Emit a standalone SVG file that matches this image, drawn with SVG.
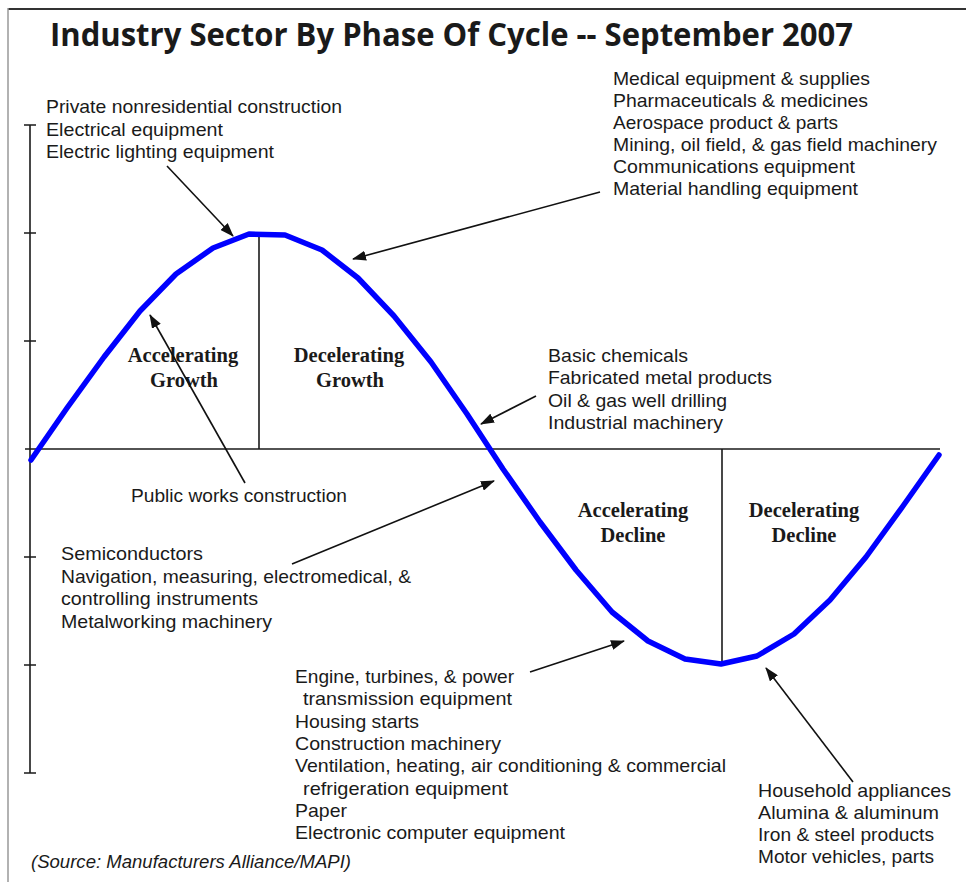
<svg xmlns="http://www.w3.org/2000/svg" width="966" height="882" viewBox="0 0 966 882">
  <style>
    .title { font-family: "Open Sans", "Liberation Sans", sans-serif; font-weight: 700; font-size: 32px; fill: #1a1a1a; }
    .item { font-family: "Liberation Sans", Arial, sans-serif; font-size: 19px; fill: #1a1a1a; }
    .phase { font-family: "Liberation Serif", "Times New Roman", serif; font-weight: 700; font-size: 20.5px; fill: #1a1a1a; text-anchor: middle; }
    .source { font-family: "Liberation Sans", Arial, sans-serif; font-style: italic; font-size: 18.5px; fill: #1a1a1a; }
    .axis { stroke: #1a1a1a; stroke-width: 1.6; fill: none; }
    .curve { stroke: #0000ff; stroke-width: 5.5; fill: none; stroke-linejoin: round; stroke-linecap: round; }
    .arrow { stroke: #111; stroke-width: 1.6; fill: none; marker-end: url(#head); }
  </style>
  <defs>
    <marker id="head" markerUnits="userSpaceOnUse" markerWidth="14" markerHeight="10" refX="13" refY="5" orient="auto">
      <path d="M0,0 L14,5 L0,10 z" fill="#111"/>
    </marker>
  </defs>

  <rect width="966" height="882" fill="#ffffff"/>

  <!-- frame -->
  <g id="frame">
    <line x1="8" y1="9" x2="966" y2="9" stroke="#333" stroke-width="2"/>
    <line x1="8" y1="8" x2="8" y2="882" stroke="#999" stroke-width="1.5"/>
  </g>

  <g id="title">
    <text class="title" x="50" y="46" textLength="803" lengthAdjust="spacingAndGlyphs">Industry Sector By Phase Of Cycle -- September 2007</text>
  </g>

  <!-- axes and ticks -->
  <g id="axes">
    <line class="axis" x1="30" y1="125" x2="30" y2="773"/>
    <line class="axis" x1="25" y1="449" x2="940" y2="449"/>
    <path class="axis" d="M24,125 H36 M24,233 H36 M24,341 H36 M24,557 H36 M24,665 H36 M24,773 H36"/>
    <line class="axis" x1="259" y1="234" x2="259" y2="449"/>
    <line class="axis" x1="722" y1="449" x2="722" y2="664"/>
  </g>

  <!-- business cycle wave -->
  <g id="cycle">
    <polyline class="curve" points="31,460 67,408 104,357 140,311 176,274 213,248 249,234 285,235 322,250 358,278 394,316 431,362 467,414 503,469 540,522 576,570 612,612 648,641 685,659 721,664 757,656 794,634 830,600 866,557 903,506 939,455"/>
  </g>

  <!-- phase labels -->
  <g id="phase-accel-growth">
    <text class="phase" x="183" y="362">Accelerating</text>
    <text class="phase" x="184" y="387">Growth</text>
  </g>
  <g id="phase-decel-growth">
    <text class="phase" x="349" y="362">Decelerating</text>
    <text class="phase" x="350" y="387">Growth</text>
  </g>
  <g id="phase-accel-decline">
    <text class="phase" x="633" y="517">Accelerating</text>
    <text class="phase" x="633" y="542">Decline</text>
  </g>
  <g id="phase-decel-decline">
    <text class="phase" x="804" y="517">Decelerating</text>
    <text class="phase" x="804" y="542">Decline</text>
  </g>

  <!-- sector groups -->
  <g id="group-peak">
    <text class="item" x="46" y="113" textLength="296" lengthAdjust="spacingAndGlyphs">Private nonresidential construction</text>
    <text class="item" x="46" y="136" textLength="177" lengthAdjust="spacingAndGlyphs">Electrical equipment</text>
    <text class="item" x="46" y="158" textLength="228" lengthAdjust="spacingAndGlyphs">Electric lighting equipment</text>
  </g>
  <g id="group-decel-growth">
    <text class="item" x="613" y="85" textLength="257" lengthAdjust="spacingAndGlyphs">Medical equipment &amp; supplies</text>
    <text class="item" x="613" y="107" textLength="255" lengthAdjust="spacingAndGlyphs">Pharmaceuticals &amp; medicines</text>
    <text class="item" x="613" y="129" textLength="225" lengthAdjust="spacingAndGlyphs">Aerospace product &amp; parts</text>
    <text class="item" x="613" y="151" textLength="324" lengthAdjust="spacingAndGlyphs">Mining, oil field, &amp; gas field machinery</text>
    <text class="item" x="613" y="173" textLength="242" lengthAdjust="spacingAndGlyphs">Communications equipment</text>
    <text class="item" x="613" y="195" textLength="245" lengthAdjust="spacingAndGlyphs">Material handling equipment</text>
  </g>
  <g id="group-late-growth">
    <text class="item" x="548" y="362" textLength="140" lengthAdjust="spacingAndGlyphs">Basic chemicals</text>
    <text class="item" x="548" y="384" textLength="224" lengthAdjust="spacingAndGlyphs">Fabricated metal products</text>
    <text class="item" x="548" y="407" textLength="179" lengthAdjust="spacingAndGlyphs">Oil &amp; gas well drilling</text>
    <text class="item" x="548" y="429" textLength="175" lengthAdjust="spacingAndGlyphs">Industrial machinery</text>
  </g>
  <g id="group-accel-growth">
    <text class="item" x="131" y="502" textLength="216" lengthAdjust="spacingAndGlyphs">Public works construction</text>
  </g>
  <g id="group-early-decline">
    <text class="item" x="61" y="560" textLength="142" lengthAdjust="spacingAndGlyphs">Semiconductors</text>
    <text class="item" x="61" y="583" textLength="350" lengthAdjust="spacingAndGlyphs">Navigation, measuring, electromedical, &amp;</text>
    <text class="item" x="61" y="605" textLength="197" lengthAdjust="spacingAndGlyphs">controlling instruments</text>
    <text class="item" x="61" y="628" textLength="211" lengthAdjust="spacingAndGlyphs">Metalworking machinery</text>
  </g>
  <g id="group-accel-decline">
    <text class="item" x="295" y="683" textLength="219" lengthAdjust="spacingAndGlyphs">Engine, turbines, &amp; power</text>
    <text class="item" x="303" y="705" textLength="209" lengthAdjust="spacingAndGlyphs">transmission equipment</text>
    <text class="item" x="295" y="728" textLength="124" lengthAdjust="spacingAndGlyphs">Housing starts</text>
    <text class="item" x="295" y="750" textLength="206" lengthAdjust="spacingAndGlyphs">Construction machinery</text>
    <text class="item" x="295" y="772" textLength="431" lengthAdjust="spacingAndGlyphs">Ventilation, heating, air conditioning &amp; commercial</text>
    <text class="item" x="303" y="795" textLength="205" lengthAdjust="spacingAndGlyphs">refrigeration equipment</text>
    <text class="item" x="295" y="817" textLength="52" lengthAdjust="spacingAndGlyphs">Paper</text>
    <text class="item" x="295" y="839" textLength="270" lengthAdjust="spacingAndGlyphs">Electronic computer equipment</text>
  </g>
  <g id="group-trough">
    <text class="item" x="758" y="797" textLength="193" lengthAdjust="spacingAndGlyphs">Household appliances</text>
    <text class="item" x="758" y="819" textLength="181" lengthAdjust="spacingAndGlyphs">Alumina &amp; aluminum</text>
    <text class="item" x="758" y="841" textLength="176" lengthAdjust="spacingAndGlyphs">Iron &amp; steel products</text>
    <text class="item" x="758" y="863" textLength="176" lengthAdjust="spacingAndGlyphs">Motor vehicles, parts</text>
  </g>

  <!-- pointers from each group to its place on the wave -->
  <g id="connectors">
    <line class="arrow" x1="167" y1="166" x2="233" y2="236"/>
    <line class="arrow" x1="600" y1="192" x2="353" y2="259"/>
    <line class="arrow" x1="245" y1="483" x2="150" y2="315"/>
    <line class="arrow" x1="536" y1="396" x2="481" y2="424"/>
    <line class="arrow" x1="292" y1="564" x2="494" y2="481"/>
    <line class="arrow" x1="530" y1="672" x2="624" y2="641"/>
    <line class="arrow" x1="853" y1="782" x2="766" y2="668"/>
  </g>

  <g id="source">
    <text class="source" x="31" y="868" textLength="320" lengthAdjust="spacingAndGlyphs">(Source: Manufacturers Alliance/MAPI)</text>
  </g>
</svg>
